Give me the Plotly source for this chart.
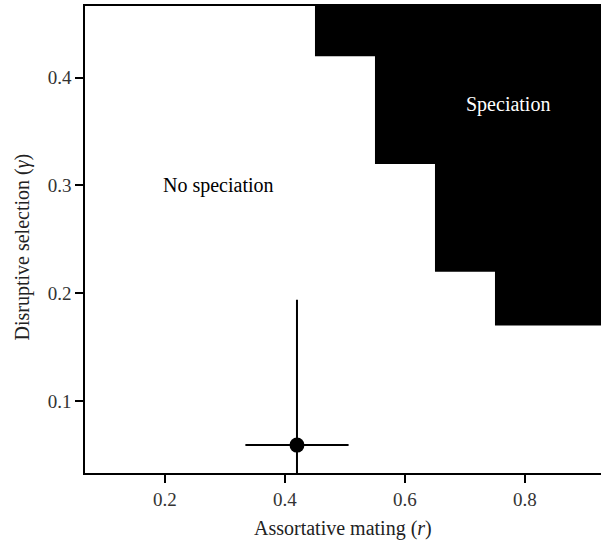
import plotly.graph_objects as go

# Data
step_r = [0.45, 0.55, 0.65, 0.75]          # left edges of speciation steps (r)
step_gamma = [0.42, 0.32, 0.22, 0.17]      # lower edges of speciation steps (gamma)
region_r_max = 1.0                          # region extends beyond plotted area
region_gamma_max = 0.5

point_r = [0.42]
point_gamma = [0.059]
err_r = [0.086]
err_gamma = [0.135]

x_tickvals = [0.2, 0.4, 0.6, 0.8]
y_tickvals = [0.1, 0.2, 0.3, 0.4]
x_range = [0.0667, 0.9267]
y_range = [0.0331, 0.4666]

# Build staircase polygon
poly_x = [step_r[0]]
poly_y = [region_gamma_max]
for i, (xr, yg) in enumerate(zip(step_r, step_gamma)):
    poly_x.append(xr)
    poly_y.append(yg)
    nxt = step_r[i + 1] if i + 1 < len(step_r) else region_r_max
    poly_x.append(nxt)
    poly_y.append(yg)
poly_x.append(region_r_max)
poly_y.append(region_gamma_max)

FONT = "Liberation Serif"
SZ = 20
TSZ = 19

fig = go.Figure()
fig.add_trace(go.Scatter(
    x=poly_x, y=poly_y, mode="lines", fill="toself",
    fillcolor="black", line=dict(color="black", width=0),
    hoverinfo="skip", showlegend=False,
))
fig.add_trace(go.Scatter(
    x=point_r, y=point_gamma, mode="markers",
    marker=dict(color="black", size=15),
    error_x=dict(type="data", array=err_r, color="black", thickness=2, width=0),
    error_y=dict(type="data", array=err_gamma, color="black", thickness=2, width=0),
    showlegend=False,
))

fig.add_annotation(x=0.29, y=0.30, text="No speciation", showarrow=False,
                   font=dict(family=FONT, size=SZ, color="black"))
fig.add_annotation(x=0.771, y=0.3756, text="Speciation", showarrow=False,
                   font=dict(family=FONT, size=SZ, color="white"))

fig.add_annotation(xref="paper", yref="paper", x=0.5, y=-0.118,
                   text="Assortative mating (<i>r</i>)", showarrow=False,
                   xanchor="center", yanchor="middle",
                   font=dict(family=FONT, size=SZ, color="#222"))
fig.add_annotation(xref="paper", yref="paper", x=-0.122, y=0.483,
                   text="Disruptive selection (<i>γ</i>)", showarrow=False,
                   textangle=-90, xanchor="center", yanchor="middle",
                   font=dict(family=FONT, size=SZ, color="#222"))

axis_common = dict(
    showgrid=False, zeroline=False, showline=True, linecolor="black", linewidth=1.5,
    ticks="outside", ticklen=8, tickwidth=2, tickcolor="black",
    tickfont=dict(family=FONT, size=TSZ, color="#333"),
)
fig.update_xaxes(range=x_range, tickvals=x_tickvals, ticktext=[str(v) for v in x_tickvals],
                 mirror=True, **axis_common)
fig.update_yaxes(range=y_range, tickvals=y_tickvals, ticktext=[str(v) for v in y_tickvals],
                 mirror=False, **axis_common)

fig.update_layout(
    width=601, height=545,
    margin=dict(l=85, r=0, t=6, b=72),
    plot_bgcolor="white", paper_bgcolor="white",
    font=dict(family=FONT, size=SZ, color="black"),
)

fig.write_html("out.html")
